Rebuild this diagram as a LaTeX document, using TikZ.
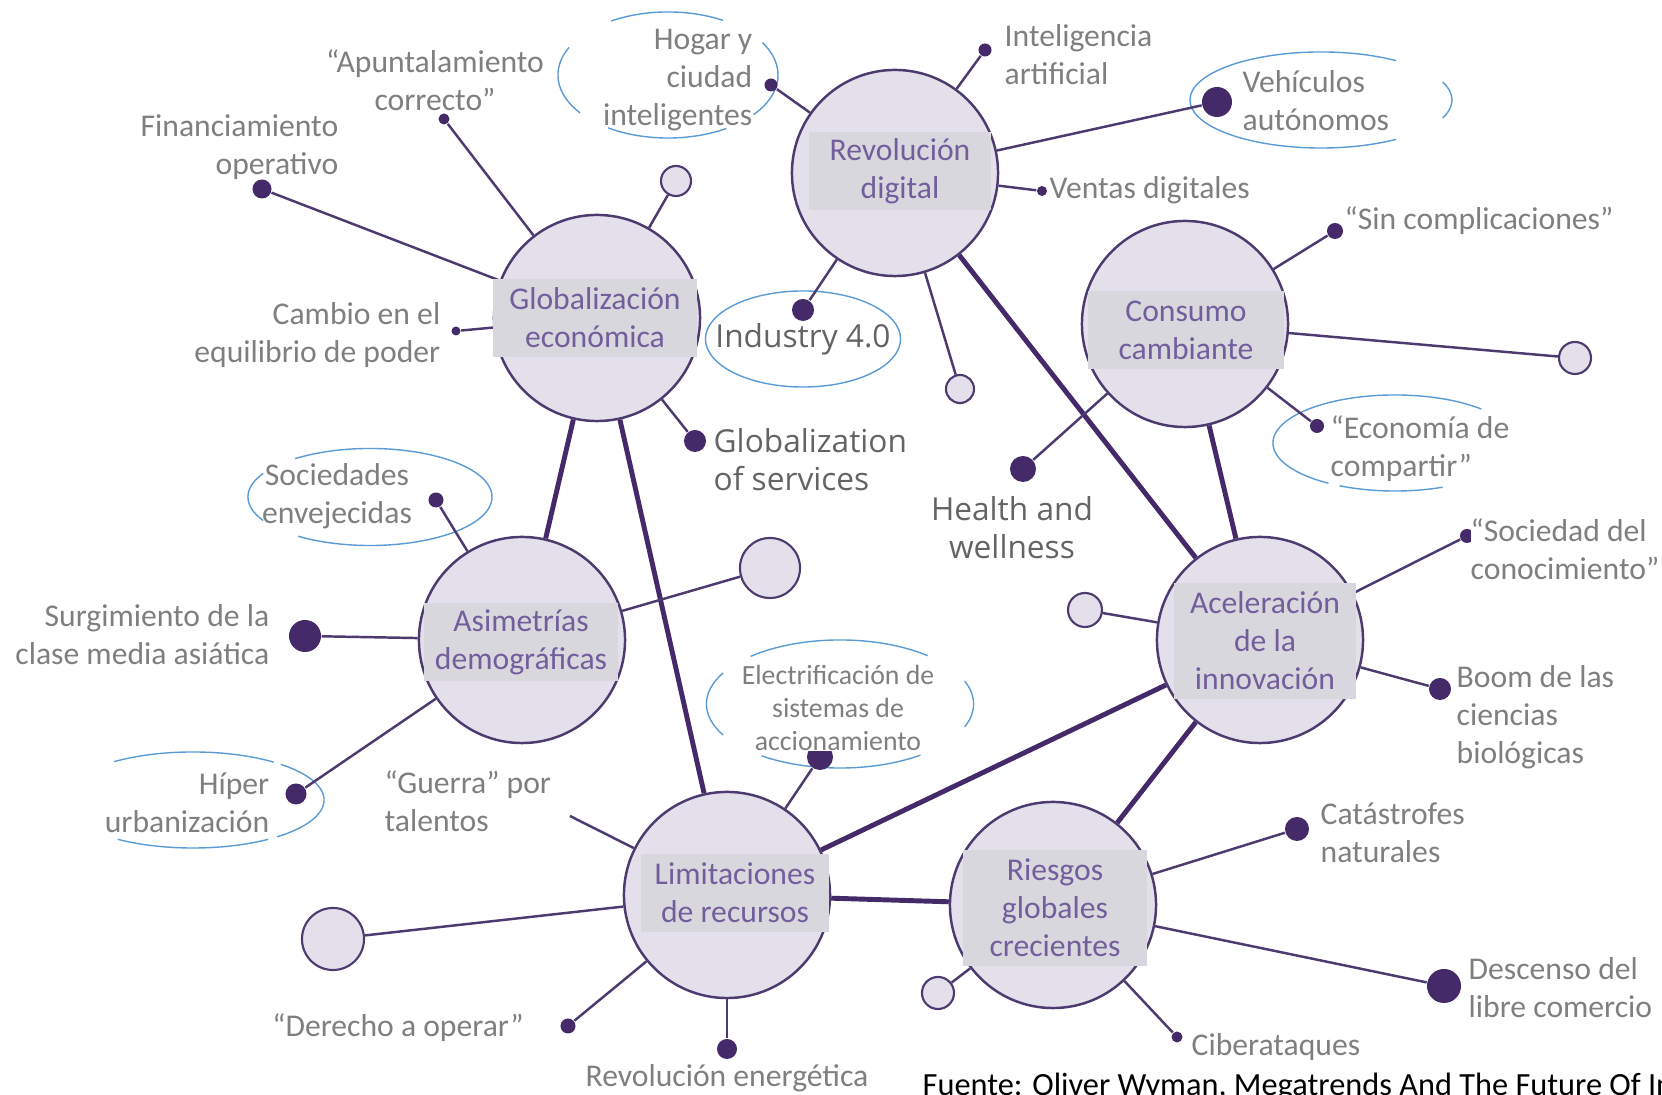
\documentclass[tikz,border=0pt]{standalone}
\usepackage{fontspec}
\setmainfont{Carlito}
\newfontfamily\engfont{Open Sans}
\usetikzlibrary{backgrounds}
\definecolor{MTInk}{HTML}{452A69}
\definecolor{MTLine}{HTML}{4D3A6E}
\definecolor{MTFill}{HTML}{E4E0EB}
\definecolor{MTTag}{HTML}{D9D7DE}
\definecolor{MTLabel}{HTML}{735E9C}
\definecolor{MTGrey}{HTML}{7F7F7F}
\definecolor{MTDark}{HTML}{646464}
\definecolor{MTHalo}{HTML}{5B9BD5}
% broken ellipse: centre, x radius, y radius, list of start/end angles
\newcommand{\haloarcs}[4]{%
  \foreach \a/\b in {#4} {%
    \draw[halo, shift={#1}] (\a:#2 and #3)
      arc[start angle=\a, end angle=\b, x radius=#2, y radius=#3];}}

\begin{document}
\begin{tikzpicture}[
    x=0.01cm, y=-0.01cm,
    bigc/.style={
      circle, draw=MTLine, line width=0.7pt, fill=MTFill,
      minimum size=2.06cm, inner sep=0pt
    },
    tag/.style={
      fill=MTTag, text=MTLabel, font=\fontsize{9}{10.8}\selectfont,
      align=center, minimum width=#1, minimum height=0.78cm, inner sep=1pt
    },
    dot/.style={circle, fill=MTInk, inner sep=0pt, minimum size=#1},
    ghost/.style={
      circle, draw=MTLine, line width=0.6pt, fill=MTFill,
      inner sep=0pt, minimum size=#1
    },
    txt/.style={font=\fontsize{9}{10.8}\selectfont, text=MTGrey, inner sep=0pt, align=center},
    eng/.style={font=\engfont\fontsize{9}{10.8}\selectfont, text=MTDark, inner sep=0pt, align=center},
    small/.style={font=\fontsize{7.9}{9.4}\selectfont, text=MTGrey, inner sep=0pt, align=center},
    src/.style={font=\fontsize{9.2}{11}\selectfont, text=black, inner sep=0pt},
    link/.style={draw=MTLine, line width=0.7pt},
    tie/.style={draw=MTInk, line width=1.4pt},
    halo/.style={draw=MTHalo, line width=0.4pt}
  ]
  \useasboundingbox (0,0) rectangle (1662,1095);

  % Megatrends
  \node[bigc] (glob) at (597,318) {};
  \node[bigc] (revd) at (895,173) {};
  \node[bigc] (cons) at (1185,324) {};
  \node[bigc] (asim) at (522,640) {};
  \node[bigc] (limi) at (727,895) {};
  \node[bigc] (acel) at (1260,640) {};
  \node[bigc] (ries) at (1053,905) {};

  \node[tag=2.03cm] (globlbl) at (595,318) {Globalización\\económica};
  \node[tag=1.81cm] (revdlbl) at (900,171) {Revolución\\digital};
  \node[tag=1.95cm] (conslbl) at (1186,330) {Consumo\\cambiante};
  \node[tag=1.94cm] (asimlbl) at (521,642) {Asimetrías\\demográficas};
  \node[tag=1.88cm] (limilbl) at (735,893) {Limitaciones\\de recursos};
  \node[tag=1.81cm, minimum height=1.16cm] (acellbl) at (1265,641) {Aceleración\\de la\\innovación};
  \node[tag=1.83cm, minimum height=1.15cm] (rieslbl) at (1055,908) {Riesgos\\globales\\crecientes};

  % Globalización económica
  \node[dot=0.11cm] (apuntdot) at (444,119) {};
  \node[dot=0.19cm] (finandot) at (262,189) {};
  \node[dot=0.09cm] (cambiodot) at (456,331) {};
  \node[ghost=0.30cm] (globghost) at (676,181) {};
  \node[dot=0.22cm] (servdot) at (695,441) {};
  \node[txt, fill=white] (apunt) at (435,80) {“Apuntalamiento\\correcto”};
  \node[txt, align=right, anchor=east] (finan) at (339,147) {Financiamiento\\operativo};
  \node[txt, align=right, anchor=east] (cambio) at (441,335) {Cambio en el\\equilibrio de poder};
  \node[eng, align=left, anchor=west] (serv) at (713,460) {Globalization\\of services};

  % Revolución digital
  \node[dot=0.22cm] (inddot) at (803,310) {};
  \node[dot=0.13cm] (hogardot) at (771,85) {};
  \node[dot=0.13cm] (iadot) at (985,50) {};
  \node[dot=0.30cm] (vehicdot) at (1217,102) {};
  \node[dot=0.10cm] (ventasdot) at (1042,191) {};
  \node[ghost=0.28cm] (revdghost) at (960,389) {};
  \node[eng] (ind) at (803,339) {Industry 4.0};
  \node[txt, align=right, anchor=east] (hogar) at (753,80) {Hogar y\\ciudad\\inteligentes};
  \node[txt, align=left, anchor=west] (ia) at (1004,55) {Inteligencia\\artificial};
  \node[txt, align=left, anchor=west] (vehic) at (1242,101) {Vehículos\\autónomos};
  \node[txt, anchor=west] (ventas) at (1049,190) {Ventas digitales};

  % Consumo cambiante
  \node[dot=0.16cm] (sindot) at (1335,231) {};
  \node[ghost=0.32cm] (consghost) at (1575,358) {};
  \node[dot=0.14cm] (econdot) at (1317,426) {};
  \node[dot=0.26cm] (healthdot) at (1023,469) {};
  \node[txt, anchor=west] (sin) at (1344,221) {“Sin complicaciones”};
  \node[txt, align=left, anchor=west] (econ) at (1330,449) {“Economía de\\compartir”};
  \node[eng] (health) at (1012,528) {Health and\\wellness};

  % Asimetrías demográficas
  \node[dot=0.15cm] (socdot) at (436,500) {};
  \node[dot=0.32cm] (surgdot) at (305,636) {};
  \node[dot=0.21cm] (hiperdot) at (296,794) {};
  \node[ghost=0.60cm] (asimghost) at (770,568) {};
  \node[txt] (soc) at (337,496) {Sociedades\\envejecidas};
  \node[txt, align=right, anchor=east] (surg) at (270,635) {Surgimiento de la\\clase media asiática};
  \node[txt, align=right, anchor=east] (hiper) at (270,803) {Híper\\urbanización};

  % Limitaciones de recursos
  \node[dot=0.26cm] (electrdot) at (820,757) {};
  \coordinate (guerraend) at (570,816);
  \node[ghost=0.62cm] (limighost) at (333,939) {};
  \node[dot=0.15cm] (derechodot) at (568,1026) {};
  \node[dot=0.20cm] (energdot) at (727,1049) {};
  \node[small, fill=white] (electr) at (838,708) {Electrificación de\\sistemas de\\accionamiento};
  \node[txt, align=left, anchor=west] (guerra) at (384,801) {“Guerra” por\\talentos};
  \node[txt] (derecho) at (398,1028) {“Derecho a operar”};
  \node[txt] (energ) at (727,1078) {Revolución energética};

  % Aceleración de la innovación
  \node[dot=0.14cm] (sociedot) at (1467,536) {};
  \node[ghost=0.34cm] (acelghost) at (1085,610) {};
  \node[dot=0.22cm] (boomdot) at (1440,689) {};
  \node[txt, align=left, anchor=west, fill=white] (socied) at (1470,549) {“Sociedad del\\conocimiento”};
  \node[txt, align=left, anchor=west] (boom) at (1456,717) {Boom de las\\ciencias\\biológicas};

  % Riesgos globales crecientes
  \node[dot=0.24cm] (catasdot) at (1297,829) {};
  \node[dot=0.34cm] (descdot) at (1444,986) {};
  \node[ghost=0.32cm] (riesghost) at (938,993) {};
  \node[dot=0.11cm] (ciberdot) at (1177,1037) {};
  \node[txt, align=left, anchor=west] (catas) at (1320,833) {Catástrofes\\naturales};
  \node[txt, align=left, anchor=west] (desc) at (1468,988) {Descenso del\\libre comercio};
  \node[txt, anchor=west] (ciber) at (1191,1047) {Ciberataques};

  \node[src, anchor=west] (fuente) at (922,1087) {Fuente: Oliver Wyman, Megatrends And The Future Of In};

  % Connectors
  \begin{scope}[on background layer]
    \haloarcs{(668,75)}{1.10cm}{0.63cm}{60/121, 154/217, 237/302, -39/31}
    \haloarcs{(1321,100)}{1.31cm}{0.48cm}{55/305, -22/22}
    \haloarcs{(1395,443)}{1.22cm}{0.48cm}{45/237, 243/293}
    \haloarcs{(370,497)}{1.22cm}{0.485cm}{-126/128, 151/209}
    \haloarcs{(193,800)}{1.31cm}{0.48cm}{52/127, -50/48, 235/305}
    \haloarcs{(840,704)}{1.335cm}{0.64cm}{49/132, 151/209, 234/307, -21/21}
    \draw[halo] (803,339) ellipse [x radius=0.975cm, y radius=0.48cm];

    \draw[tie] (glob) -- (asim);
    \draw[tie] (glob) -- (limi);
    \draw[tie] (revd) -- (acel);
    \draw[tie] (cons) -- (acel);
    \draw[tie] (limi) -- (acel);
    \draw[tie] (limi) -- (ries);
    \draw[tie] (acel) -- (ries);

    \draw[link] (apuntdot) -- (glob);
    \draw[link] (finandot) -- (glob);
    \draw[link] (cambiodot) -- (glob);
    \draw[link] (globghost) -- (glob);
    \draw[link] (servdot) -- (glob);
    \draw[link] (inddot) -- (revd);
    \draw[link] (hogardot) -- (revd);
    \draw[link] (iadot) -- (revd);
    \draw[link] (vehicdot) -- (revd);
    \draw[link] (ventasdot) -- (revd);
    \draw[link] (revdghost) -- (revd);
    \draw[link] (sindot) -- (cons);
    \draw[link] (consghost) -- (cons);
    \draw[link] (econdot) -- (cons);
    \draw[link] (healthdot) -- (cons);
    \draw[link] (socdot) -- (asim);
    \draw[link] (surgdot) -- (asim);
    \draw[link] (hiperdot) -- (asim);
    \draw[link] (asimghost) -- (asim);
    \draw[link] (electrdot) -- (limi);
    \draw[link] (guerraend) -- (limi);
    \draw[link] (limighost) -- (limi);
    \draw[link] (derechodot) -- (limi);
    \draw[link] (energdot) -- (limi);
    \draw[link] (sociedot) -- (acel);
    \draw[link] (acelghost) -- (acel);
    \draw[link] (boomdot) -- (acel);
    \draw[link] (catasdot) -- (ries);
    \draw[link] (descdot) -- (ries);
    \draw[link] (riesghost) -- (ries);
    \draw[link] (ciberdot) -- (ries);
  \end{scope}
\end{tikzpicture}
\end{document}
